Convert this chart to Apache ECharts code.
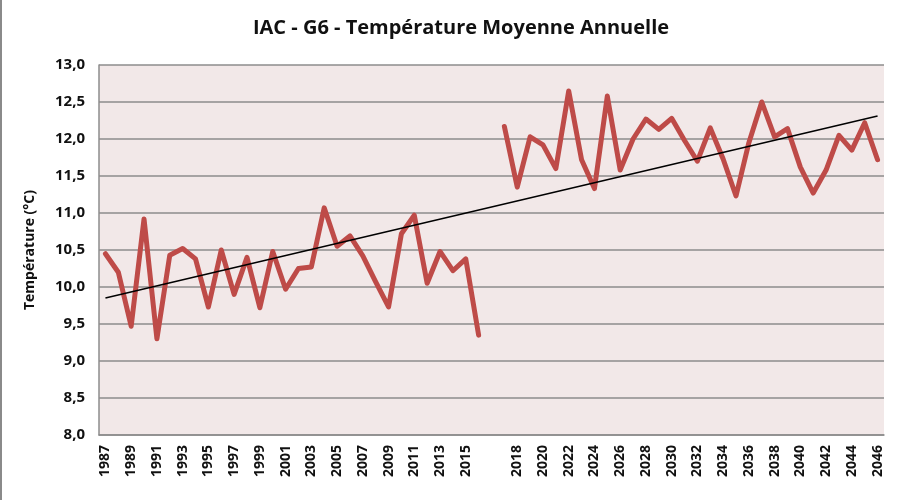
<!DOCTYPE html>
<html>
<head>
<meta charset="utf-8">
<script src="https://cdn.jsdelivr.net/npm/echarts@6/dist/echarts.min.js"></script>
<style>
  html, body { margin: 0; padding: 0; background: #fff; }
  #chart { width: 920px; height: 500px; box-sizing: border-box; border-left: 2px solid #8a8a8a; }
</style>
</head>
<body>
<div id="chart"></div>
<script>
// Categories: 1987-2016, a blank slot, 2017-2046
var years = [
  '1987','1988','1989','1990','1991','1992','1993','1994','1995','1996',
  '1997','1998','1999','2000','2001','2002','2003','2004','2005','2006',
  '2007','2008','2009','2010','2011','2012','2013','2014','2015','2016',
  '',
  '2017','2018','2019','2020','2021','2022','2023','2024','2025','2026',
  '2027','2028','2029','2030','2031','2032','2033','2034','2035','2036',
  '2037','2038','2039','2040','2041','2042','2043','2044','2045','2046'
];
var temperature = [
  10.45, 10.20, 9.47, 10.92, 9.30, 10.43, 10.52, 10.38, 9.73, 10.50,
  9.90, 10.40, 9.72, 10.48, 9.97, 10.25, 10.27, 11.07, 10.55, 10.69,
  10.42, 10.07, 9.73, 10.72, 10.97, 10.05, 10.48, 10.22, 10.38, 9.35,
  null,
  12.17, 11.35, 12.03, 11.92, 11.60, 12.65, 11.72, 11.33, 12.58, 11.58,
  12.00, 12.27, 12.13, 12.28, 11.98, 11.70, 12.15, 11.73, 11.23, 11.95,
  12.50, 12.03, 12.14, 11.62, 11.27, 11.58, 12.05, 11.85, 12.22, 11.72
];
// Linear trend line endpoints
var trendStart = 9.85;
var trendEnd = 12.31;
var yTicks = { min: 8, max: 13, interval: 0.5 };

var trend = years.map(function (y, i) {
  if (i === 0) return trendStart;
  if (i === years.length - 1) return trendEnd;
  return null;
});

var chart = echarts.init(document.getElementById('chart'));
chart.setOption({
  animation: false,
  title: {
    text: 'IAC - G6 - Température Moyenne Annuelle',
    left: 'center',
    top: 13,
    textStyle: { fontFamily: 'Open Sans', fontWeight: 'bold', fontSize: 20, color: '#111' }
  },
  grid: {
    left: 97, right: 36, top: 65, bottom: 65,
    show: true, backgroundColor: '#F2E8E8', borderWidth: 0
  },
  xAxis: {
    type: 'category',
    data: years,
    boundaryGap: true,
    axisLine: { lineStyle: { color: '#8c8c8c', width: 1.5 } },
    axisTick: { show: false },
    axisLabel: {
      interval: 1,
      rotate: 90,
      margin: 10,
      fontFamily: 'Open Sans',
      fontWeight: 'bold',
      fontSize: 14,
      color: '#111'
    }
  },
  yAxis: {
    type: 'value',
    min: yTicks.min, max: yTicks.max, interval: yTicks.interval,
    name: 'Température (°C)',
    nameLocation: 'middle',
    nameGap: 62,
    nameTextStyle: { fontFamily: 'Open Sans', fontWeight: 'bold', fontSize: 14, color: '#111' },
    axisLine: { show: true, lineStyle: { color: '#8c8c8c', width: 1.5 } },
    axisTick: { show: false },
    axisLabel: {
      margin: 14,
      fontFamily: 'Open Sans',
      fontWeight: 'bold',
      fontSize: 15,
      color: '#111',
      formatter: function (v) { return v.toFixed(1).replace('.', ','); }
    },
    splitLine: { lineStyle: { color: '#8c8c8c', width: 1.5 } }
  },
  series: [
    {
      type: 'line',
      data: temperature,
      connectNulls: false,
      symbol: 'none',
      lineStyle: { color: '#BE4B48', width: 5, join: 'round', cap: 'round' },
      z: 2
    },
    {
      type: 'line',
      data: trend,
      connectNulls: true,
      symbol: 'none',
      lineStyle: { color: '#000', width: 1.5 },
      z: 3
    }
  ]
});
</script>
</body>
</html>
